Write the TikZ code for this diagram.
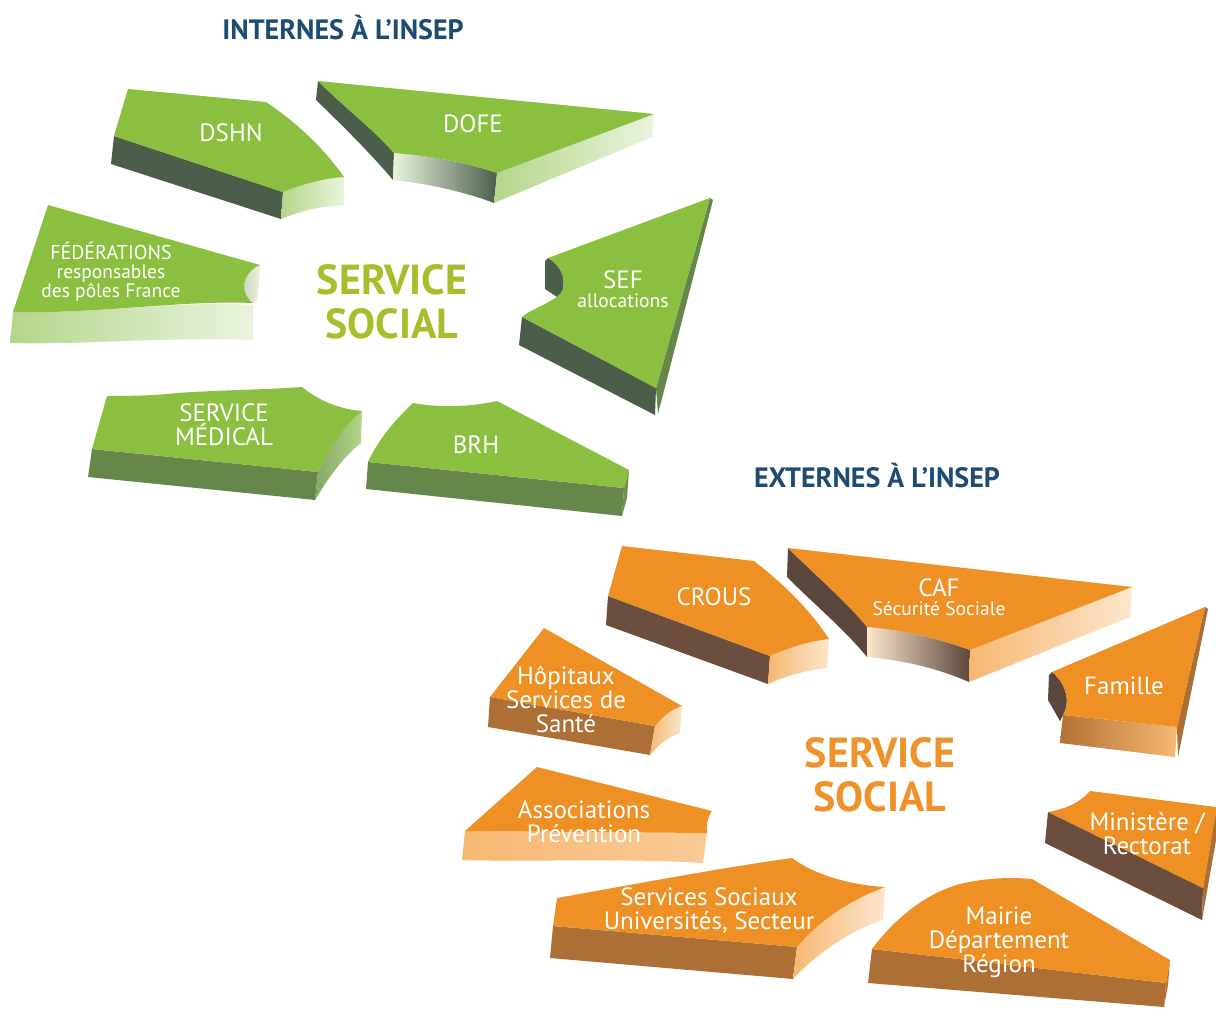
\documentclass[tikz,border=0pt]{standalone}
\usepackage{fontspec}
\setmainfont{PT Sans}
\definecolor{gtop}{HTML}{8BBF40}
\definecolor{gdark}{HTML}{4B5E4A}
\definecolor{gmid}{HTML}{65874A}
\definecolor{glight}{HTML}{EAF4DD}
\definecolor{glight2}{HTML}{B3D68A}
\definecolor{otop}{HTML}{EE9024}
\definecolor{odark}{HTML}{6B4E3E}
\definecolor{odark2}{HTML}{5A463C}
\definecolor{omid}{HTML}{AC6F36}
\definecolor{olight}{HTML}{FDE6CC}
\definecolor{olight2}{HTML}{F6B873}
\definecolor{titleblue}{HTML}{1D4B73}
\definecolor{sgreen}{HTML}{A9BD2A}
\definecolor{sorange}{HTML}{F0922B}
\tikzset{
  lbl/.style={text=white, align=center, inner sep=0pt, font=\fontsize{25}{24}\selectfont},
  small/.style={text=white, align=center, inner sep=0pt, font=\fontsize{19.5}{19}\selectfont},
  hub/.style={align=center, inner sep=0pt, font=\fontsize{42}{44}\selectfont\bfseries},
  ttl/.style={text=titleblue, inner sep=0pt, font=\fontsize{28}{30}\selectfont\bfseries}
}
\begin{document}
\begin{tikzpicture}[x=1pt,y=-1pt]
\useasboundingbox (0,0) rectangle (1216,1009);
\fill[white] (0,0) rectangle (1216,1009);

% ---------------- GREEN (internes) ----------------
% DSHN
\fill[gdark] (114,136) -- (283,192) -- (281,219) -- (111,164) -- cycle;
\shade[left color=glight2, right color=glight] (283,192) .. controls (303,184) and (325,178) .. (344,177) -- (344,205) .. controls (322,206) and (300,211) .. (281,219) -- cycle;
\fill[gtop] (128,89) -- (266,102) .. controls (300,125) and (325,150) .. (344,177) .. controls (325,178) and (303,184) .. (283,192) -- (114,136) -- cycle;
% DOFE
\fill[gdark] (318,81) .. controls (345,108) and (372,128) .. (394,153) -- (393,180) .. controls (372,155) and (345,128) .. (316,100) -- cycle;
\shade[left color=glight, middle color=gmid!70!glight2, right color=gdark] (394,153) .. controls (430,156) and (465,162) .. (497,173) -- (494,203) .. controls (465,192) and (430,184) .. (393,180) -- cycle;
\shade[left color=glight2, right color=glight] (497,173) -- (654,114) -- (652,137) -- (494,203) -- cycle;
\fill[gtop] (318,81) -- (654,114) -- (497,173) .. controls (465,162) and (430,156) .. (394,153) .. controls (372,128) and (345,108) .. (318,81) -- cycle;
% FEDERATIONS
\shade[left color=glight2, right color=glight] (13,312) .. controls (100,314) and (180,300) .. (253,305) -- (253,340) .. controls (150,337) and (80,345) .. (10,343) -- cycle;
\shade[left color=gmid!40!white, right color=glight] (260,265) .. controls (243,272) and (238,292) .. (253,303) -- (258,298) -- (260,268) -- cycle;
\fill[gtop] (48,205) -- (260,265) .. controls (243,272) and (238,292) .. (253,303) .. controls (180,300) and (100,314) .. (13,312) -- cycle;
% SEF
\fill[gdark] (522,317) -- (656,388) -- (655,415) -- (519,345) -- cycle;
\fill[gmid] (710,198) -- (713,200) -- (658,414) -- (656,388) -- cycle;
\fill[gdark] (548,258) .. controls (566,268) and (568,290) .. (557,297) -- (545,289) -- (545,261) -- cycle;
\fill[gtop] (710,198) -- (548,258) .. controls (566,268) and (568,290) .. (557,297) .. controls (545,305) and (530,310) .. (522,317) -- (656,388) -- cycle;
% SERVICE MEDICAL
\fill[gmid] (92,449) -- (318,472) -- (315,500) -- (88,477) -- cycle;
\shade[left color=gmid!60!glight2, right color=glight2] (318,472) .. controls (330,448) and (345,425) .. (362,411) -- (361,443) .. controls (345,455) and (328,478) .. (315,500) -- cycle;
\fill[gtop] (107,396) .. controls (140,396) and (160,395) .. (177,393) .. controls (220,390) and (260,390) .. (302,387) .. controls (318,400) and (338,409) .. (362,411) .. controls (345,425) and (330,448) .. (318,472) -- (92,449) -- cycle;
% BRH
\fill[gmid] (368,462) -- (624,488) -- (622,516) -- (366,489) -- cycle;
\fill[gmid!80!gtop] (629,470) -- (624,488) -- (622,516) -- (627,498) -- cycle;
\fill[gtop] (413,403) .. controls (440,408) and (470,407) .. (497,401) -- (629,470) -- (624,488) -- (368,462) .. controls (378,440) and (395,420) .. (413,403) -- cycle;

% ---------------- ORANGE (externes) ----------------
% CROUS
\fill[odark] (608,596) -- (770,656) -- (768,684) -- (606,625) -- cycle;
\shade[left color=olight2, right color=olight] (770,656) .. controls (790,647) and (810,641) .. (829,639) -- (827,668) .. controls (808,670) and (788,675) .. (768,684) -- cycle;
\fill[otop] (622,546) -- (754,561) .. controls (785,585) and (810,610) .. (829,639) .. controls (810,641) and (790,647) .. (770,656) -- (608,596) -- cycle;
% CAF
\fill[odark2] (788,548) .. controls (815,575) and (845,600) .. (867,627) -- (867,657) .. controls (845,630) and (815,605) .. (787,577) -- cycle;
\shade[left color=olight, middle color=olight2!80!odark2, right color=odark2] (867,627) .. controls (902,630) and (937,638) .. (970,650) -- (969,682) .. controls (937,668) and (902,660) .. (867,657) -- cycle;
\shade[left color=olight2, right color=olight] (970,650) -- (1132,587) -- (1130,617) -- (969,682) -- cycle;
\fill[otop] (788,548) -- (1132,587) -- (970,650) .. controls (937,638) and (902,630) .. (867,627) .. controls (845,600) and (815,575) .. (788,548) -- cycle;
% Famille
\shade[left color=omid!90!otop, right color=olight2] (1063,715) -- (1177,727) -- (1175,757) -- (1060,743) -- cycle;
\fill[odark2] (1052,672) .. controls (1068,685) and (1070,705) .. (1063,715) -- (1060,721) -- (1048,700) -- (1049,675) -- cycle;
\fill[omid] (1205,607) -- (1208,609) -- (1178,757) -- (1177,727) -- cycle;
\fill[otop] (1205,607) -- (1052,672) .. controls (1068,685) and (1070,705) .. (1063,715) -- (1177,727) -- cycle;
% Ministere
\fill[odark] (1048,812) -- (1203,888) -- (1202,920) -- (1045,843) -- cycle;
\fill[omid] (1216,810) -- (1203,888) -- (1202,920) -- (1216,840) -- cycle;
\fill[otop] (1090,791) -- (1216,807) -- (1216,812) -- (1203,888) -- (1048,812) .. controls (1065,809) and (1080,803) .. (1090,791) -- cycle;
% Hopitaux
\fill[omid] (490,697) -- (655,726) -- (650,755) -- (488,727) -- cycle;
\shade[left color=olight2, right color=olight] (655,726) .. controls (663,716) and (672,709) .. (682,706) -- (680,733) .. controls (668,737) and (658,745) .. (650,755) -- cycle;
\fill[otop] (544,628) -- (682,706) .. controls (672,709) and (663,716) .. (655,726) -- (490,697) -- cycle;
% Associations
\shade[left color=olight2, right color=olight2!60!olight] (465,831) -- (707,833) -- (703,863) .. controls (620,858) and (540,862) .. (462,860) -- cycle;
\fill[otop] (537,767) -- (712,811) .. controls (707,818) and (706,826) .. (707,833) -- (465,831) -- cycle;
% Services Sociaux
\fill[omid] (553,926) -- (797,947) -- (793,979) -- (550,958) -- cycle;
\shade[left color=olight2, right color=olight] (797,947) .. controls (820,920) and (850,900) .. (885,887) -- (883,920) .. controls (850,930) and (815,955) .. (793,979) -- cycle;
\fill[otop] (557,898) .. controls (630,885) and (720,868) .. (792,858) .. controls (815,875) and (850,885) .. (885,887) .. controls (850,900) and (820,920) .. (797,947) -- (553,926) -- cycle;
% Mairie
\fill[omid] (872,949) -- (1166,983) -- (1164,1007) -- (868,983) -- cycle;
\fill[omid!80!otop] (1170,960) -- (1166,983) -- (1164,1007) -- (1168,985) -- cycle;
\fill[otop] (960,884) .. controls (985,878) and (1010,877) .. (1032,879) -- (1170,960) -- (1166,983) -- (872,949) .. controls (890,925) and (920,895) .. (960,884) -- cycle;

% ---------------- TEXTS ----------------
\node[ttl] (tint) at (343,28) {INTERNES À L’INSEP};
\node[ttl] (text) at (877,476) {EXTERNES À L’INSEP};
\node[hub, text=sgreen] (hubg) at (392,302) {SERVICE\\SOCIAL};
\node[hub, text=sorange] (hubo) at (880,775) {SERVICE\\SOCIAL};

\node[lbl] (dshn) at (231,133) {DSHN};
\node[lbl] (dofe) at (473,124) {DOFE};
\node[small] (fed) at (111,272) {{\fontsize{20}{19}\selectfont FÉDÉRATIONS}\\responsables\\des pôles France};
\node[small] (sef) at (623,289) {{\fontsize{25}{22}\selectfont SEF}\\allocations};
\node[lbl] (med) at (224,425) {SERVICE\\MÉDICAL};
\node[lbl] (brh) at (476,445) {BRH};

\node[lbl] (crous) at (714,597) {CROUS};
\node[small] (caf) at (939,597) {{\fontsize{25}{22}\selectfont CAF}\\Sécurité Sociale};
\node[lbl] (fam) at (1124,686) {Famille};
\node[lbl] (hop) at (566,699) {Hôpitaux\\Services de\\Santé};
\node[lbl] (asso) at (584,822) {Associations\\Prévention};
\node[lbl] (min) at (1147,834) {Ministère /\\Rectorat};
\node[lbl] (ssoc) at (709,910) {Services Sociaux\\Universités, Secteur};
\node[lbl] (mai) at (999,942) {Mairie\\Département\\Région};
\end{tikzpicture}
\end{document}
